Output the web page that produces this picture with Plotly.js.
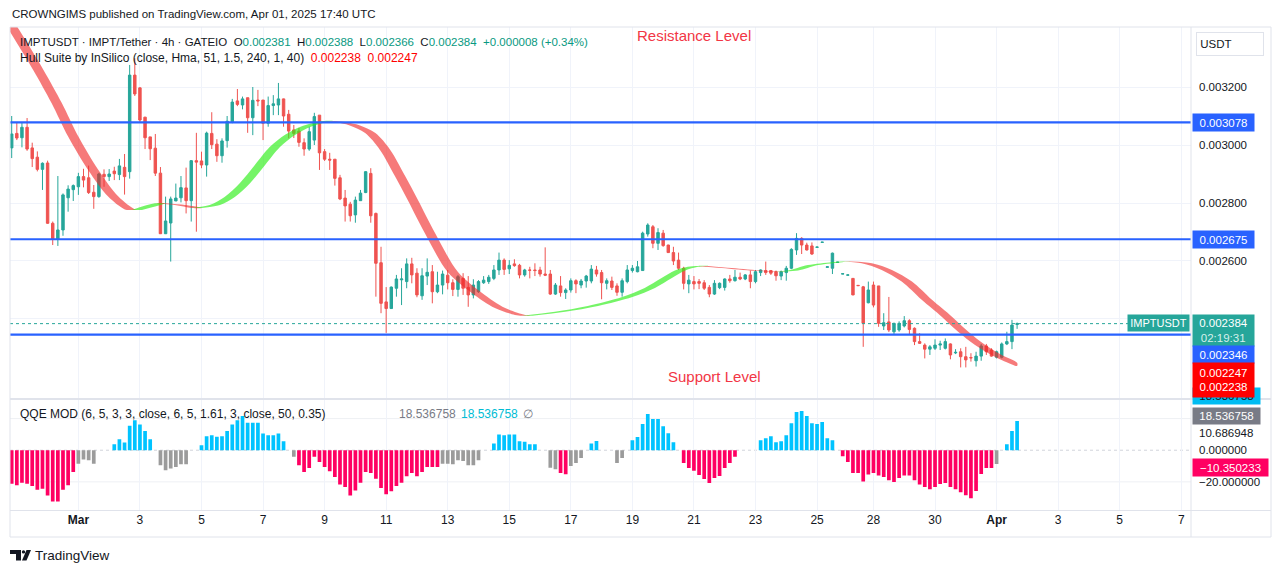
<!DOCTYPE html>
<html><head><meta charset="utf-8">
<script src="https://cdn.plot.ly/plotly-3.0.1.min.js"></script>
<style>html,body{margin:0;padding:0;background:#fff;}#chart{width:1281px;height:573px;}</style>
</head><body><div id="chart"></div>
<script>
const W = 1281, H = 573;

// ---- Candles (IMPTUSDT 4h) ----
const open = [0.002990,0.003040,0.003025,0.003061,0.002990,0.002958,0.002916,0.002938,0.002730,0.002675,
0.002707,0.002818,0.002846,0.002856,0.002891,0.002887,0.002837,0.002822,0.002899,0.002891,
0.002910,0.002898,0.002923,0.002908,0.003241,0.003197,0.003096,0.003028,0.002989,0.002903,
0.002694,0.002731,0.002807,0.002818,0.002852,0.002808,0.002946,0.002945,0.002931,0.003040,
0.003003,0.002963,0.003015,0.003080,0.003152,0.003138,0.003163,0.003094,0.003155,0.003155,
0.003075,0.003136,0.003138,0.003159,0.003106,0.003052,0.003048,0.003008,0.002986,0.003017,
0.003103,0.002977,0.002951,0.002951,0.002887,0.002817,0.002796,0.002759,0.002808,0.002836,
0.002902,0.002764,0.002594,0.002459,0.002436,0.002506,0.002535,0.002529,0.002590,0.002558,
0.002480,0.002548,0.002563,0.002494,0.002517,0.002551,0.002525,0.002502,0.002540,0.002509,
0.002483,0.002494,0.002525,0.002529,0.002540,0.002569,0.002603,0.002573,0.002590,0.002585,
0.002552,0.002569,0.002569,0.002569,0.002555,0.002555,0.002486,0.002514,0.002491,0.002500,
0.002532,0.002517,0.002531,0.002531,0.002569,0.002560,0.002523,0.002531,0.002514,0.002492,
0.002529,0.002567,0.002563,0.002567,0.002693,0.002718,0.002661,0.002696,0.002655,0.002629,
0.002603,0.002575,0.002521,0.002529,0.002529,0.002525,0.002509,0.002486,0.002508,0.002509,
0.002538,0.002532,0.002544,0.002538,0.002552,0.002529,0.002560,0.002567,0.002567,0.002563,
0.002548,0.002560,0.002575,0.002638,0.002678,0.002655,0.002652,0.002647,0.002664,0.002578,
0.002575,0.002595,0.002555,0.002551,0.002540,0.002516,0.002511,0.002456,0.002517,0.002514,
0.002376,0.002390,0.002356,0.002362,0.002376,0.002394,0.002368,0.002322,0.002310,0.002296,
0.002299,0.002310,0.002299,0.002314,0.002283,0.002287,0.002270,0.002267,0.002256,0.002272,
0.002307,0.002293,0.002268,0.002268,0.002314,0.002322,0.002381];

const high = [0.003100,0.003076,0.003077,0.003093,0.003008,0.002978,0.002940,0.002946,0.002736,0.002893,
0.002833,0.002861,0.002864,0.002904,0.002918,0.002929,0.002862,0.002904,0.002916,0.002917,
0.002925,0.002952,0.002969,0.003276,0.003299,0.003199,0.003097,0.003028,0.003038,0.002924,
0.002822,0.002822,0.002867,0.002893,0.002922,0.002948,0.003042,0.002977,0.003046,0.003113,
0.003020,0.003023,0.003100,0.003159,0.003193,0.003167,0.003163,0.003200,0.003190,0.003155,
0.003167,0.003172,0.003214,0.003160,0.003121,0.003069,0.003059,0.003023,0.003063,0.003111,
0.003103,0.002986,0.002973,0.002951,0.002897,0.002845,0.002804,0.002822,0.002845,0.002910,
0.002920,0.002767,0.002649,0.002510,0.002512,0.002552,0.002575,0.002609,0.002611,0.002575,
0.002575,0.002609,0.002586,0.002563,0.002567,0.002569,0.002537,0.002552,0.002558,0.002548,
0.002537,0.002534,0.002548,0.002552,0.002586,0.002629,0.002609,0.002603,0.002606,0.002590,
0.002573,0.002580,0.002592,0.002580,0.002647,0.002569,0.002524,0.002548,0.002506,0.002540,
0.002537,0.002538,0.002552,0.002586,0.002583,0.002569,0.002540,0.002546,0.002523,0.002540,
0.002586,0.002586,0.002600,0.002701,0.002730,0.002724,0.002713,0.002707,0.002656,0.002649,
0.002629,0.002580,0.002552,0.002548,0.002538,0.002534,0.002517,0.002534,0.002526,0.002540,
0.002552,0.002569,0.002560,0.002555,0.002567,0.002569,0.002571,0.002598,0.002569,0.002567,
0.002567,0.002583,0.002644,0.002696,0.002682,0.002663,0.002664,0.002649,0.002665,0.002581,
0.002629,0.002597,0.002556,0.002553,0.002541,0.002516,0.002514,0.002529,0.002529,0.002514,
0.002420,0.002476,0.002387,0.002392,0.002410,0.002399,0.002371,0.002351,0.002316,0.002310,
0.002330,0.002325,0.002333,0.002316,0.002296,0.002299,0.002304,0.002282,0.002287,0.002314,
0.002314,0.002299,0.002291,0.002319,0.002356,0.002397,0.002388];

const low = [0.002955,0.003017,0.002992,0.002980,0.002924,0.002909,0.002845,0.002728,0.002655,0.002652,
0.002687,0.002770,0.002807,0.002828,0.002854,0.002831,0.002780,0.002818,0.002856,0.002876,
0.002879,0.002879,0.002829,0.002884,0.003169,0.003079,0.002986,0.002948,0.002893,0.002693,
0.002693,0.002598,0.002807,0.002802,0.002764,0.002736,0.002701,0.002920,0.002891,0.002986,
0.002942,0.002939,0.002991,0.003075,0.003134,0.003123,0.003042,0.003034,0.003134,0.003017,
0.003063,0.003103,0.003103,0.003063,0.003023,0.003024,0.002994,0.002963,0.002980,0.003000,
0.002914,0.002945,0.002914,0.002860,0.002810,0.002736,0.002736,0.002732,0.002808,0.002834,
0.002732,0.002477,0.002420,0.002352,0.002436,0.002477,0.002448,0.002506,0.002523,0.002475,
0.002466,0.002517,0.002454,0.002489,0.002485,0.002502,0.002479,0.002477,0.002483,0.002442,
0.002471,0.002490,0.002521,0.002521,0.002534,0.002552,0.002552,0.002555,0.002580,0.002540,
0.002546,0.002540,0.002548,0.002546,0.002548,0.002483,0.002483,0.002477,0.002469,0.002491,
0.002489,0.002506,0.002508,0.002523,0.002546,0.002468,0.002502,0.002500,0.002480,0.002477,
0.002523,0.002560,0.002561,0.002567,0.002684,0.002644,0.002638,0.002649,0.002628,0.002586,
0.002569,0.002502,0.002489,0.002502,0.002503,0.002500,0.002475,0.002483,0.002503,0.002498,
0.002525,0.002529,0.002534,0.002534,0.002506,0.002523,0.002548,0.002552,0.002552,0.002532,
0.002534,0.002532,0.002572,0.002621,0.002624,0.002636,0.002621,0.002646,0.002664,0.002578,
0.002555,0.002595,0.002555,0.002551,0.002482,0.002515,0.002304,0.002454,0.002440,0.002373,
0.002362,0.002355,0.002345,0.002356,0.002371,0.002345,0.002310,0.002314,0.002264,0.002276,
0.002293,0.002293,0.002295,0.002261,0.002279,0.002233,0.002233,0.002253,0.002236,0.002256,
0.002276,0.002270,0.002264,0.002264,0.002310,0.002296,0.002366];

const close = [0.003038,0.003024,0.003061,0.002986,0.002953,0.002916,0.002937,0.002730,0.002675,0.002707,
0.002828,0.002848,0.002860,0.002891,0.002879,0.002836,0.002822,0.002900,0.002891,0.002900,
0.002901,0.002928,0.002891,0.003241,0.003176,0.003086,0.003025,0.002987,0.002903,0.002694,
0.002738,0.002814,0.002817,0.002853,0.002808,0.002946,0.002941,0.002931,0.003041,0.003001,
0.002963,0.003014,0.003082,0.003148,0.003140,0.003159,0.003094,0.003154,0.003152,0.003075,
0.003136,0.003142,0.003159,0.003100,0.003048,0.003040,0.003009,0.002986,0.003046,0.003098,
0.002973,0.002951,0.002948,0.002885,0.002814,0.002790,0.002756,0.002810,0.002834,0.002908,
0.002756,0.002592,0.002454,0.002436,0.002510,0.002538,0.002538,0.002590,0.002552,0.002483,
0.002549,0.002561,0.002494,0.002517,0.002555,0.002525,0.002502,0.002546,0.002506,0.002483,
0.002517,0.002529,0.002534,0.002544,0.002569,0.002603,0.002571,0.002585,0.002584,0.002552,
0.002569,0.002568,0.002567,0.002555,0.002551,0.002486,0.002517,0.002491,0.002500,0.002532,
0.002521,0.002531,0.002548,0.002572,0.002555,0.002525,0.002532,0.002509,0.002492,0.002532,
0.002569,0.002575,0.002580,0.002696,0.002724,0.002661,0.002698,0.002653,0.002629,0.002600,
0.002575,0.002523,0.002534,0.002521,0.002523,0.002506,0.002486,0.002523,0.002523,0.002538,
0.002532,0.002544,0.002538,0.002552,0.002529,0.002563,0.002569,0.002560,0.002558,0.002549,
0.002563,0.002575,0.002640,0.002678,0.002655,0.002638,0.002624,0.002648,0.002665,0.002580,
0.002627,0.002596,0.002556,0.002552,0.002483,0.002515,0.002385,0.002500,0.002448,0.002385,
0.002387,0.002362,0.002385,0.002385,0.002394,0.002364,0.002322,0.002316,0.002296,0.002304,
0.002310,0.002314,0.002322,0.002276,0.002285,0.002270,0.002259,0.002266,0.002272,0.002307,
0.002287,0.002272,0.002287,0.002314,0.002322,0.002379,0.002384];

// ---- Hull Suite (HMA line sampled at bar positions); band = HULL and HULL[2] ----
const hullBars = [-7.2,-0.55,4.19,7.77,11.0,14.9,18.8,22.06,23.4,27.9,31.8,35.1,38.6,41.5,44.5,47.4,50.3,53.3,56.2,58.7,60.7,
63.0,65.9,68.9,71.8,74.7,77.2,80.5,85.0,89.7,94.2,98.1,99.5,105.9,112.3,119.0,123.4,126.7,129.3,131.8,133.8,
138.4,144.9,148.8,151.3,155.2,159.9,161.8,165.7,169.6,173.5,177.4,181.3,184.5,187.8,191.0,194.2,196];
const hullVals = [0.003586,0.003397,0.003259,0.003145,0.003029,0.002914,0.002822,0.002778,0.002776,0.002799,0.002793,0.002783,
0.002793,0.002821,0.002869,0.002931,0.002993,0.003035,0.003062,0.003076,0.003083,
0.003079,0.003067,0.003041,0.002983,0.002893,0.002810,0.002697,0.002562,0.002490,0.002438,0.002414,0.002411,
0.002425,0.002445,0.002476,0.002507,0.002541,0.002567,0.002580,0.002583,
0.002576,0.002566,0.002564,0.002567,0.002586,0.002596,0.002598,
0.002592,0.002569,0.002529,0.002466,0.002408,0.002356,0.002310,0.002276,0.002249,0.002238];
const hullLegend = [0.002238, 0.002247];

// ---- Horizontal levels ----
const levels = [0.003078, 0.002675, 0.002346];
const levelNames = ['Resistance Level', 'Support Level'];

// ---- QQE MOD histogram ----
const qqeVals = [-21.2,-22.2,-20.5,-21.2,-22.6,-25.0,-24.3,-28.6,-32.4,-32.4,-25.0,-22.2,-13.8,
-8.5,-5.9,-6.3,-8.5,
null,null,null,
3.8,7.0,4.9,15.4,19.0,16.3,12.1,7.0,
null,
-9.5,-12.7,-11.6,-10.6,-8.9,-8.9,
null,null,
3.2,8.9,9.5,8.5,8.9,12.1,16.3,19.0,21.6,17.4,17.4,17.4,10.6,9.5,9.5,10.6,5.7,
null,
-4.2,
-9.5,-13.8,-11.2,-4.2,-7.4,-10.6,-13.3,-16.9,-21.6,-23.3,-28.6,-25.4,-20.5,-13.8,-14.4,-18.0,-23.9,-27.9,-26.0,-22.6,-20.5,-16.5,-14.4,-16.5,-13.8,-10.6,-10.6,-10.6,
-8.5,-8.5,-8.9,-6.3,-6.8,-9.5,-9.5,-6.3,
null,null,
4.2,9.9,9.5,9.9,9.9,5.7,5.3,3.8,3.8,
null,null,
-11.0,-12.1,-14.4,-15.2,-9.9,-8.0,-4.9,
null,
4.2,5.9,
null,null,null,
-8.0,-4.9,
null,
6.3,8.3,16.5,22.9,19.7,19.7,15.2,10.8,5.1,
null,
-8.0,-11.2,-12.9,-15.7,-18.2,-20.7,-17.6,-16.3,-11.2,-8.0,-4.2,
null,null,null,null,
6.3,7.6,8.9,5.1,5.7,9.5,17.1,24.1,24.8,21.6,17.1,16.5,17.8,7.6,6.3,
null,
-3.8,-7.4,-14.4,-14.4,-19.7,-15.4,-14.4,-15.9,-16.9,-19.0,-20.1,-17.6,-15.9,-15.9,-19.0,-21.6,-23.3,-24.6,-23.3,-21.4,-20.7,-23.3,-24.6,-26.5,-28.4,-30.3,-25.8,-15.0,-11.2,-11.2,
-8.7,
null,
3.8,12.1,18.5];
// state per bar: p = below (pink), g = neutral (gray), b = above (blue), . = none
const qqeState = 'p'.repeat(13)+'g'.repeat(4)+'.'.repeat(3)+'b'.repeat(8)+'.'+'g'.repeat(6)+'..'+'b'.repeat(17)+'.'+'g'+
  'p'.repeat(28)+'g'.repeat(8)+'..'+'b'.repeat(9)+'..'+'ggppggg'+'.'+'bb'+'...'+'gg'+'.'+'b'.repeat(9)+'.'+'p'.repeat(11)+
  '....'+'b'.repeat(15)+'.'+'p'.repeat(30)+'g'+'.'+'bbb';
const qqeLegend = [18.536758, 18.536758];
const qqeAxisLabels = [10.686948, 0, -20];
const qqeMarkers = [18.536758, 18.536758, -10.350233];

// ---- Axis ticks ----
const tickBars = [13,25,37,49,61,73,85,97,109,121,133,145,157,168,180,192,204,216,228];
const tickLabels = ['<b>Mar</b>','3','5','7','9','11','13','15','17','19','21','23','25','28','30','<b>Apr</b>','3','5','7'];
const priceTicks = [0.0032,0.0030,0.0028,0.0026,0.0024];

// ---------------- build ----------------
const N = close.length, lastBar = N - 1;
const idx = close.map((_, i) => i);
const TEAL = '#26a69a', RED = '#ef5350';
const FONT = 'Liberation Sans, Arial, sans-serif';
const FS = 11.5;
const px = x => x / W, py = y => (H - y) / H;

const traces = [];
traces.push({
  type: 'candlestick', x: idx, open, high, low, close, xaxis: 'x', yaxis: 'y',
  increasing: {line: {color: TEAL, width: 1}, fillcolor: TEAL},
  decreasing: {line: {color: RED, width: 1}, fillcolor: RED},
  whiskerwidth: 0, hoverinfo: 'skip', showlegend: false
});

// hull band segments
(function () {
  const LAG = 2, segs = [];
  let s = 0;
  for (let k = 1; k < hullVals.length - 1; k++) {
    if ((hullVals[k] - hullVals[k - 1]) * (hullVals[k + 1] - hullVals[k]) < 0) { segs.push([s, k]); s = k; }
  }
  segs.push([s, hullVals.length - 1]);
  segs.forEach(([a, b]) => {
    const xs = [], ys = [];
    for (let k = a; k <= b; k++) { xs.push(hullBars[k]); ys.push(hullVals[k]); }
    for (let k = b; k >= a; k--) {
      const xb = hullBars[k] + LAG;
      if (xb > lastBar + 0.5) continue;
      xs.push(Math.min(xb, lastBar)); ys.push(hullVals[k]);
    }
    const up = hullVals[b] > hullVals[a];
    traces.push({
      type: 'scatter', mode: 'lines', x: xs, y: ys, xaxis: 'x', yaxis: 'y',
      fill: 'toself', fillcolor: up ? 'rgba(45,238,25,0.66)' : 'rgba(240,40,40,0.62)',
      line: {width: 0, shape: 'spline', smoothing: 0.9}, hoverinfo: 'skip', showlegend: false
    });
  });
})();

const stateColor = {p: '#ff0062', g: '#9b9b9b', b: '#00c3ff', '.': 'rgba(0,0,0,0)'};
traces.push({
  type: 'bar', x: idx, y: qqeVals, xaxis: 'x2', yaxis: 'y2', width: 0.72,
  marker: {color: qqeState.split('').map(c => stateColor[c]), line: {width: 0}},
  hoverinfo: 'skip', showlegend: false
});

// y mapping (main panel px 27..399, qqe panel px 399..510)
const yMainRange = [0.0021241, 0.0034069];
const yQqeRange = [-38.1, 32.38];
const xRange = [-0.33, 229.9];

const shapes = [];
levels.forEach(v => shapes.push({type: 'line', xref: 'paper', yref: 'y', x0: px(10), x1: px(1191), y0: v, y1: v, line: {color: '#2962ff', width: 2.2}}));
shapes.push({type: 'line', xref: 'paper', yref: 'y', x0: px(10), x1: px(1129), y0: close[lastBar], y1: close[lastBar], line: {color: TEAL, width: 1, dash: 'dot'}});
[20, -20].forEach(v => shapes.push({type: 'line', xref: 'paper', yref: 'y2', x0: px(10), x1: px(1191), y0: v, y1: v, layer: 'below', line: {color: '#eef0f4', width: 1}}));
shapes.push({type: 'line', xref: 'paper', yref: 'y2', x0: px(10), x1: px(1191), y0: 0, y1: 0, layer: 'below', line: {color: '#d1d4dc', width: 1, dash: 'dot'}});
const frame = '#e0e3eb';
shapes.push({type: 'rect', xref: 'paper', yref: 'paper', x0: px(10), x1: px(1271), y0: py(537), y1: py(27), line: {color: frame, width: 1}});
shapes.push({type: 'line', xref: 'paper', yref: 'paper', x0: px(1191), x1: px(1191), y0: py(537), y1: py(27), line: {color: frame, width: 1}});
shapes.push({type: 'line', xref: 'paper', yref: 'paper', x0: px(10), x1: px(1271), y0: py(399), y1: py(399), line: {color: frame, width: 2}});
shapes.push({type: 'line', xref: 'paper', yref: 'paper', x0: px(10), x1: px(1271), y0: py(510.5), y1: py(510.5), line: {color: frame, width: 1}});
// TradingView logo
const P = (x, y) => px(x) + ',' + py(y);
shapes.push({type: 'path', xref: 'paper', yref: 'paper', path: 'M' + P(10, 550) + ' L' + P(21, 550) + ' L' + P(21, 560.5) + ' L' + P(16, 560.5) + ' L' + P(16, 554) + ' L' + P(10, 554) + ' Z', fillcolor: '#131722', line: {width: 0}});
shapes.push({type: 'circle', xref: 'paper', yref: 'paper', x0: px(21.8), x1: px(25.2), y0: py(553.6), y1: py(550.2), fillcolor: '#131722', line: {width: 0}});
shapes.push({type: 'path', xref: 'paper', yref: 'paper', path: 'M' + P(26.5, 550) + ' L' + P(31, 550) + ' L' + P(26.5, 560.5) + ' L' + P(22, 560.5) + ' Z', fillcolor: '#131722', line: {width: 0}});

const ann = [];
function txt(x, y, text, o) {
  ann.push(Object.assign({xref: 'paper', yref: 'paper', x: px(x), y: py(y), text, showarrow: false, xanchor: 'left', yanchor: 'middle', font: {family: FONT, size: FS, color: '#131722'}}, o || {}));
}
function box(yref, yv, text, bg, w, h, fc) {
  ann.push({xref: 'paper', x: px(1192), xanchor: 'left', yref, y: yv, yanchor: 'middle', text, showarrow: false,
    bgcolor: bg, width: w, height: h, align: 'center', valign: 'middle', borderpad: 0,
    font: {family: FONT, size: FS, color: fc || '#ffffff'}});
}
const f6 = v => v.toFixed(6);
const up = '#089981', sp = '\u00a0';
txt(10, 14, 'CROWNGIMS published on TradingView.com, Apr 01, 2025 17:40 UTC');
txt(18, 42, 'IMPTUSDT · IMPT/Tether · 4h · GATEIO' + sp + sp + 'O<span style="color:' + up + '">' + f6(open[lastBar]) + '</span>' + sp + sp +
  'H<span style="color:' + up + '">' + f6(high[lastBar]) + '</span>' + sp + sp +
  'L<span style="color:' + up + '">' + f6(low[lastBar]) + '</span>' + sp + sp +
  'C<span style="color:' + up + '">' + f6(close[lastBar]) + '</span>' + sp + sp +
  '<span style="color:' + up + '">+0.000008 (+0.34%)</span>');
txt(18, 58, 'Hull Suite by InSilico (close, Hma, 51, 1.5, 240, 1, 40)' + sp + sp + '<span style="color:#ff0000">' + f6(hullLegend[0]) + sp + sp + f6(hullLegend[1]) + '</span>', {font: {family: FONT, size: 12, color: '#131722'}});
txt(694, 36, levelNames[0], {xanchor: 'center', font: {family: FONT, size: 15, color: '#f23645'}});
txt(715, 377, levelNames[1], {xanchor: 'center', font: {family: FONT, size: 15, color: '#f23645'}});
txt(18, 414, 'QQE MOD (6, 5, 3, 3, close, 6, 5, 1.61, 3, close, 50, 0.35)', {font: {family: FONT, size: 12, color: '#131722'}});
txt(397, 414, f6(qqeLegend[0]), {font: {family: FONT, size: 12, color: '#787b86'}});
txt(459, 414, f6(qqeLegend[1]), {font: {family: FONT, size: 12, color: '#00bcd4'}});
txt(521, 414, '∅', {font: {family: FONT, size: 12, color: '#787b86'}});
txt(33, 555, 'TradingView', {font: {family: FONT, size: 13.5, color: '#131722'}});

// right axis badges
ann.push({xref: 'paper', yref: 'paper', x: px(1196), y: py(44), xanchor: 'left', yanchor: 'middle', text: sp + 'USDT', showarrow: false,
  bgcolor: '#ffffff', bordercolor: '#e0e3eb', borderwidth: 1, width: 66, height: 22, align: 'left', borderpad: 0,
  font: {family: FONT, size: FS, color: '#131722'}});
box('y', levels[0], f6(levels[0]), '#2962ff', 61, 17);
box('y', levels[1], f6(levels[1]), '#2962ff', 61, 17);
box('paper', py(330.5), f6(close[lastBar]) + '<br><span style="color:#d6f0ec">02:19:31</span>', TEAL, 61, 31);
box('paper', py(354.5), f6(levels[2]), '#2962ff', 61, 17);
box('paper', py(395.5), f6(qqeMarkers[0]), '#00bcf2', 67, 16, '#131722');
box('paper', py(380), f6(hullLegend[1]) + '<br>' + f6(hullLegend[0]), '#ff0000', 61, 34);
box('paper', py(416), f6(qqeMarkers[1]), '#787b86', 67, 16);
box('paper', py(467.5), '−' + f6(Math.abs(qqeMarkers[2])), '#ff0062', 75, 17);
ann.push({xref: 'paper', yref: 'paper', x: px(1190), y: py(323), xanchor: 'right', yanchor: 'middle', text: 'IMPTUSDT', showarrow: false,
  bgcolor: TEAL, width: 61, height: 16, borderpad: 0, font: {family: FONT, size: 11, color: '#ffffff'}});

const layout = {
  width: W, height: H, margin: {l: 0, r: 0, t: 0, b: 0}, paper_bgcolor: '#ffffff', plot_bgcolor: '#ffffff',
  showlegend: false, dragmode: false, boxgap: 0.32,
  font: {family: FONT, size: FS, color: '#131722'},
  xaxis: {domain: [px(10), px(1191)], range: xRange, anchor: 'y', tickvals: tickBars, showticklabels: false,
    showgrid: true, gridcolor: '#f0f3fa', zeroline: false, showline: false, rangeslider: {visible: false}, fixedrange: true},
  xaxis2: {domain: [px(10), px(1191)], range: xRange, anchor: 'y2', tickvals: tickBars, ticktext: tickLabels,
    showgrid: true, gridcolor: '#f0f3fa', zeroline: false, showline: false, ticks: '', tickfont: {family: FONT, size: 12, color: '#131722'}, fixedrange: true},
  yaxis: {domain: [py(399), py(27)], range: yMainRange, anchor: 'x', side: 'right', tickvals: priceTicks, ticktext: priceTicks.map(f6),
    showgrid: true, gridcolor: '#f0f3fa', zeroline: false, showline: false, ticks: '', ticklabelstandoff: 7,
    tickfont: {family: FONT, size: FS, color: '#131722'}, fixedrange: true},
  yaxis2: {domain: [py(510.5), py(399)], range: yQqeRange, anchor: 'x2', side: 'right', tickvals: qqeAxisLabels,
    ticktext: qqeAxisLabels.map(v => (v < 0 ? '−' : '') + f6(Math.abs(v))),
    showgrid: false, zeroline: false, showline: false, ticks: '', ticklabelstandoff: 7,
    tickfont: {family: FONT, size: FS, color: '#131722'}, fixedrange: true},
  shapes, annotations: ann
};

Plotly.newPlot('chart', traces, layout, {staticPlot: true, displayModeBar: false});
</script>
</body></html>
